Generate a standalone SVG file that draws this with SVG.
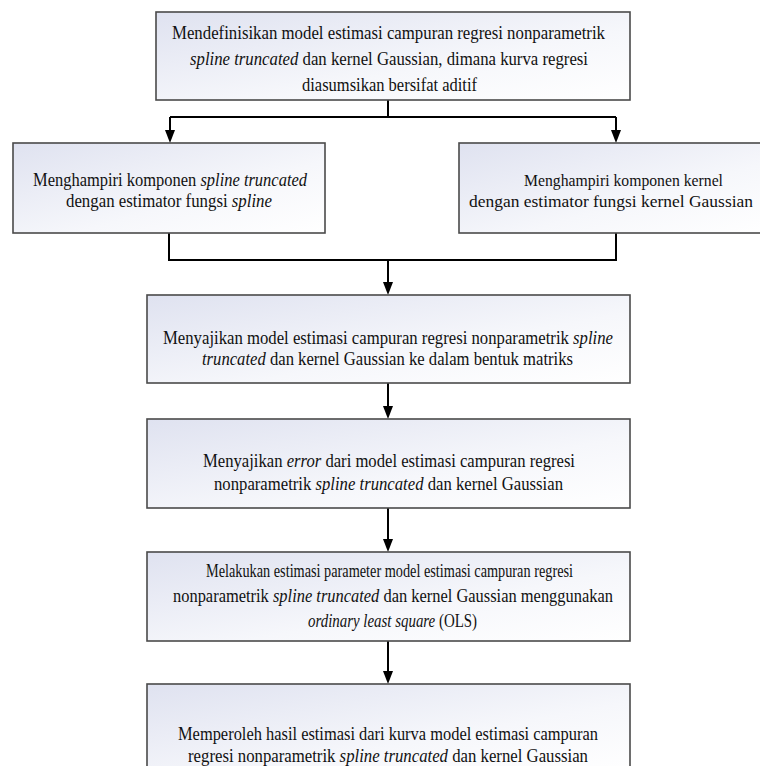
<svg xmlns="http://www.w3.org/2000/svg" width="760" height="766" viewBox="0 0 760 766">
<defs>
<linearGradient id="fill" x1="0" y1="0" x2="1" y2="1">
<stop offset="0" stop-color="#dfe2f0"/>
<stop offset="0.6" stop-color="#f6f7fb"/>
<stop offset="1" stop-color="#ffffff"/>
</linearGradient>
<marker id="arr" markerUnits="userSpaceOnUse" viewBox="0 0 13 10" refX="10" refY="5" markerWidth="13" markerHeight="10" orient="auto">
<path d="M0,0 L13,5 L0,10 z" fill="#000"/>
</marker>
</defs>
<style>
.box{fill:url(#fill);stroke:#4a4a4a;stroke-width:1.6}
.t{font-family:"Liberation Serif","Times New Roman",serif;font-size:18px;fill:#111}
.s{font-size:17.5px}
.i{font-family:"Liberation Serif","Times New Roman",serif;font-style:italic}
.c{fill:none;stroke:#000;stroke-width:2}
</style>
<rect width="760" height="766" fill="#fff"/>
<g id="connectors">
<path class="c" d="M388 100 V117"/>
<path class="c" d="M170 117 H616"/>
<path class="c" d="M170 117 V140" marker-end="url(#arr)"/>
<path class="c" d="M616 117 V140" marker-end="url(#arr)"/>
<path class="c" d="M169 233 V260 H616 V233"/>
<path class="c" d="M388 260 V292" marker-end="url(#arr)"/>
<path class="c" d="M388 383 V416" marker-end="url(#arr)"/>
<path class="c" d="M388 508 V549" marker-end="url(#arr)"/>
<path class="c" d="M388 641 V681" marker-end="url(#arr)"/>
</g>
<g id="n1">
<rect class="box" x="156" y="12" width="474" height="88"/>
<text class="t" x="172" y="39" textLength="433" lengthAdjust="spacingAndGlyphs">Mendefinisikan model estimasi campuran regresi nonparametrik</text>
<text class="t" x="190" y="65" textLength="398" lengthAdjust="spacingAndGlyphs"><tspan class="i">spline truncated</tspan> dan kernel Gaussian, dimana kurva regresi</text>
<text class="t" x="302" y="91" textLength="175" lengthAdjust="spacingAndGlyphs">diasumsikan bersifat aditif</text>
</g>
<g id="n2">
<rect class="box" x="13" y="143" width="312" height="90"/>
<text class="t" x="33" y="186" textLength="274" lengthAdjust="spacingAndGlyphs">Menghampiri komponen <tspan class="i">spline truncated</tspan></text>
<text class="t" x="66" y="207" textLength="206" lengthAdjust="spacingAndGlyphs">dengan estimator fungsi <tspan class="i">spline</tspan></text>
</g>
<g id="n3">
<rect class="box" x="459" y="143" width="314" height="90"/>
<text class="t s" x="524" y="186" textLength="199" lengthAdjust="spacingAndGlyphs">Menghampiri komponen kernel</text>
<text class="t s" x="469" y="207" textLength="284" lengthAdjust="spacingAndGlyphs">dengan estimator fungsi kernel Gaussian</text>
</g>
<g id="n4">
<rect class="box" x="147" y="295" width="483" height="88"/>
<text class="t" x="163" y="344" textLength="450" lengthAdjust="spacingAndGlyphs">Menyajikan model estimasi campuran regresi nonparametrik <tspan class="i">spline</tspan></text>
<text class="t" x="202" y="365" textLength="371" lengthAdjust="spacingAndGlyphs"><tspan class="i">truncated</tspan> dan kernel Gaussian ke dalam bentuk matriks</text>
</g>
<g id="n5">
<rect class="box" x="147" y="419" width="483" height="89"/>
<text class="t" x="203" y="467" textLength="372" lengthAdjust="spacingAndGlyphs">Menyajikan <tspan class="i">error</tspan> dari model estimasi campuran regresi</text>
<text class="t" x="214" y="490" textLength="349" lengthAdjust="spacingAndGlyphs">nonparametrik <tspan class="i">spline truncated</tspan> dan kernel Gaussian</text>
</g>
<g id="n6">
<rect class="box" x="147" y="552" width="483" height="89"/>
<text class="t" x="206" y="577" textLength="367" lengthAdjust="spacingAndGlyphs">Melakukan estimasi parameter model estimasi campuran regresi</text>
<text class="t" x="173" y="602" textLength="440" lengthAdjust="spacingAndGlyphs">nonparametrik <tspan class="i">spline truncated</tspan> dan kernel Gaussian menggunakan</text>
<text class="t" x="308" y="627" textLength="169" lengthAdjust="spacingAndGlyphs"><tspan class="i">ordinary least square</tspan> (OLS)</text>
</g>
<g id="n7">
<rect class="box" x="147" y="684" width="483" height="90"/>
<text class="t" x="178" y="740" textLength="420" lengthAdjust="spacingAndGlyphs">Memperoleh hasil estimasi dari kurva model estimasi campuran</text>
<text class="t" x="188" y="762" textLength="400" lengthAdjust="spacingAndGlyphs">regresi nonparametrik <tspan class="i">spline truncated</tspan> dan kernel Gaussian</text>
</g>
</svg>
